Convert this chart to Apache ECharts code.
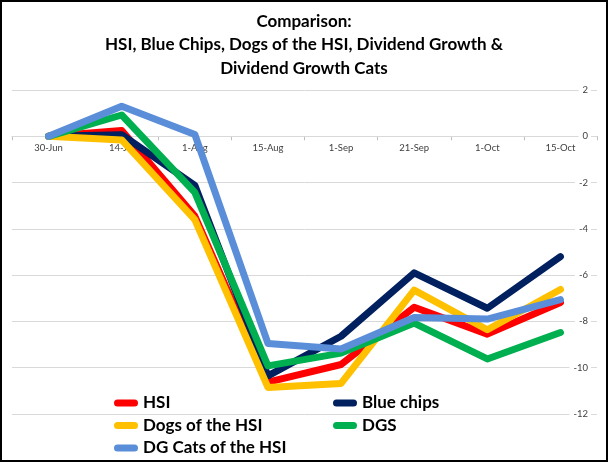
<!DOCTYPE html>
<html>
<head>
<meta charset="utf-8">
<script src="https://cdn.jsdelivr.net/npm/echarts@6/dist/echarts.min.js"></script>
<style>
html,body{margin:0;padding:0;background:#fff;}
#chart{width:608px;height:462px;position:absolute;left:0;top:0;}
#frame{position:absolute;left:0;top:0;width:608px;height:462px;box-sizing:border-box;border:2px solid #000;pointer-events:none;}
</style>
</head>
<body>
<div id="chart"></div>
<div id="frame"></div>
<script>
var categories = ['30-Jun','14-Jul','1-Aug','15-Aug','1-Sep','21-Sep','1-Oct','15-Oct'];
var hsi       = [0, 0.25, -3.45, -10.62, -9.86, -7.39, -8.55, -7.18];
var blueChips = [0, 0.07, -2.12, -10.35, -8.64, -5.90, -7.43, -5.20];
var dogs      = [0, -0.16, -3.60, -10.85, -10.68, -6.65, -8.36, -6.62];
var dgs       = [0, 0.92, -2.42, -9.92, -9.37, -8.07, -9.62, -8.48];
var dgCats    = [0, 1.30, 0.08, -8.95, -9.19, -7.83, -7.90, -7.06];
var seriesNames = ['HSI','Blue chips','Dogs of the HSI','DGS','DG Cats of the HSI'];
var yMin = -12, yMax = 2, yStep = 2;
var titleText = 'Comparison:\nHSI, Blue Chips, Dogs of the HSI, Dividend Growth &\nDividend Growth Cats';

var FONT = 'Lato, "Open Sans", sans-serif';
var colors = ['#FF0000','#002060','#FFC000','#00B050','#5B8ED8'];
var values = [hsi, blueChips, dogs, dgs, dgCats];
var pill = 'path://M3.5,0 H20.5 A3.5,3.5 0 0 1 20.5,7 H3.5 A3.5,3.5 0 0 1 3.5,0 Z';

var gridTop = 90, gridBottom = 48, H = 462;
var plotH = H - gridTop - gridBottom;
var zeroOffset = -plotH * (0 - yMin) / (yMax - yMin);

var chart = echarts.init(document.getElementById('chart'), null, {renderer:'canvas'});
function legendCfg(left, data){
  return {
    orient:'vertical', left:left, top:393, padding:0, itemWidth:24, itemHeight:7, itemGap:2.5, icon: pill,
    data:data,
    textStyle:{fontFamily:FONT, fontWeight:'bold', fontSize:17, color:'#000', lineHeight:20}
  };
}
chart.setOption({
  animation:false,
  color: colors,
  title:{
    text: titleText, left:'center', top:5,
    textStyle:{fontFamily:FONT, fontWeight:'bold', fontSize:17, lineHeight:23.3, color:'#000'}
  },
  legend:[
    legendCfg(114, [seriesNames[0], seriesNames[2], seriesNames[4]]),
    legendCfg(333, [seriesNames[1], seriesNames[3]])
  ],
  grid:{left:12, right:11, top:gridTop, bottom:gridBottom},
  xAxis:{
    type:'category', data:categories, boundaryGap:true, position:'bottom', offset: zeroOffset,
    axisLine:{show:true, onZero:false, lineStyle:{color:'#d0d0d0', width:1}},
    axisTick:{show:true, length:4, lineStyle:{color:'#bfbfbf'}},
    axisLabel:{fontFamily:FONT, fontSize:9.5, color:'#404040', margin:7}
  },
  yAxis:{
    type:'value', position:'right', min:yMin, max:yMax, interval:yStep, z:3,
    axisLine:{show:false}, axisTick:{show:false},
    splitLine:{show:true, lineStyle:{color:'#d9d9d9', width:1}},
    axisLabel:{inside:true, align:'right', margin:6, fontFamily:FONT, fontSize:9.5, color:'#404040',
      backgroundColor:'#fff', padding:[0,3,0,4]}
  },
  series: seriesNames.map(function(n,i){
    return {
      name:n, type:'line', data:values[i], showSymbol:false, symbol:'none',
      lineStyle:{width:7, color:colors[i], cap:'round', join:'round'},
      itemStyle:{color:colors[i]}
    };
  })
});
</script>
</body>
</html>
